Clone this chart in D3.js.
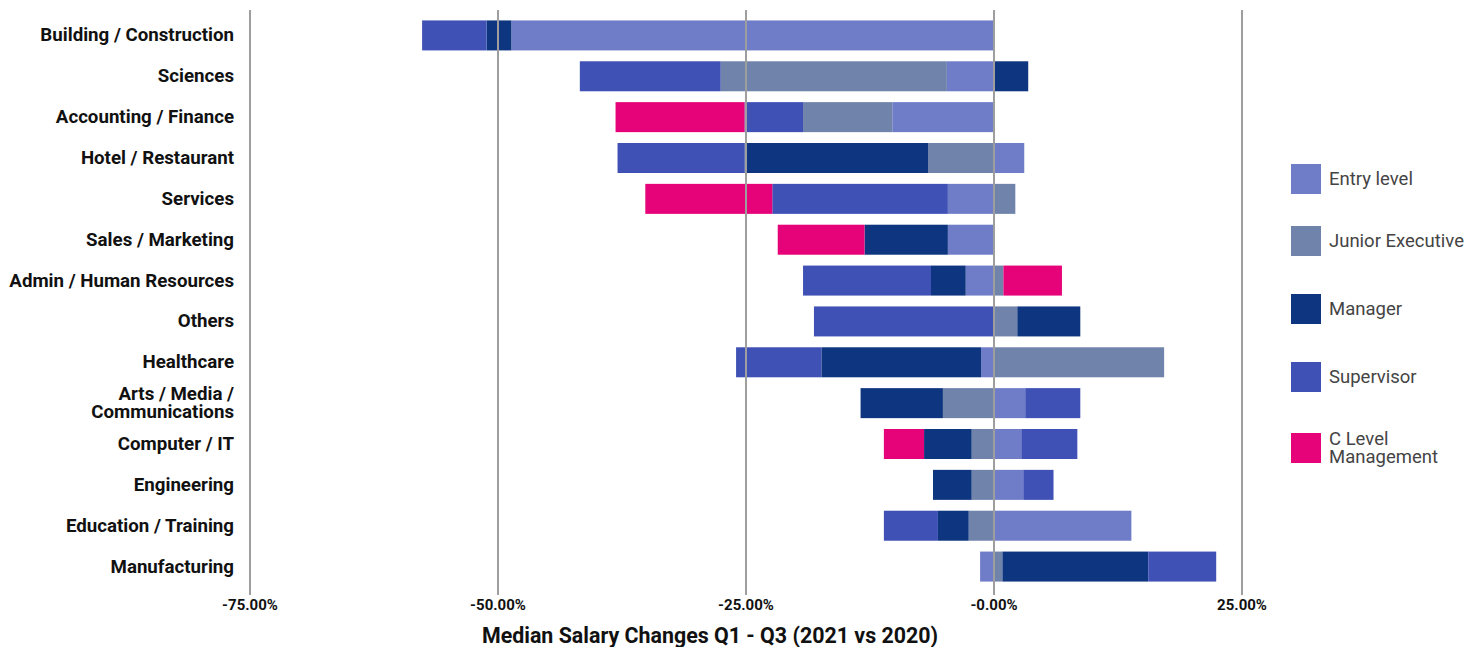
<!DOCTYPE html>
<html>
<head>
<meta charset="utf-8">
<script src="https://cdn.jsdelivr.net/npm/d3@7"></script>
<style>
body { margin: 0; background: #fff; }
text { font-family: Roboto, sans-serif; }
</style>
</head>
<body>
<div id="salary_chart"></div>
<script>
//categories, top to bottom
var categories = ["Building / Construction", "Sciences", "Accounting / Finance", "Hotel / Restaurant",
  "Services", "Sales / Marketing", "Admin / Human Resources", "Others", "Healthcare",
  "Arts / Media / Communications", "Computer / IT", "Engineering", "Education / Training", "Manufacturing"];

//median salary change (%) per category, one array per level
var entryLevel      = [-48.6, -4.7, -10.2,   3.1,  -4.6, -4.6, -2.8,   0,    -1.25,  3.2,  2.8,  3.0, 13.9, -1.35];
var juniorExecutive = [  0,  -22.8,  -9.0,  -6.6,   2.2,  0,    1.0,   2.4,  17.2,  -5.1, -2.2, -2.2, -2.5,  0.9];
var manager         = [ -2.5,  3.5,   0,   -18.5,   0,   -8.4, -3.5,   6.35, -16.1, -8.3, -4.8, -3.9, -3.1, 14.7];
var supervisor      = [ -6.5, -14.2, -5.9, -12.8, -17.7,  0,  -12.9, -18.1,  -8.6,  5.55, 5.65, 3.05, -5.45, 6.85];
var cLevel          = [  0,    0,   -13.0,   0,   -12.8, -8.75, 5.9,   0,     0,    0,   -4.05, 0,    0,    0];

//series names and colours
var seriesNames = ["Entry level", "Junior Executive", "Manager", "Supervisor", "C Level Management"];
var seriesColors = ["#6f7dc8", "#6f83ab", "#0e3680", "#3f51b5", "#e6037a"];

//x axis ticks
var tickValues = [-75, -50, -25, 0, 25];
var tickLabels = ["-75.00%", "-50.00%", "-25.00%", "-0.00%", "25.00%"];

var width = 1468, height = 647;

//appending svg object to body
var svg = d3.select("#salary_chart")
  .append("svg")
  .attr("width", width)
  .attr("height", height);

//building rows for the stack layout
var seriesKeys = ["entry", "junior", "manager", "supervisor", "clevel"];
var seriesValues = [entryLevel, juniorExecutive, manager, supervisor, cLevel];
var rows = categories.map(function(c, i) {
  var row = {category: c};
  seriesKeys.forEach(function(k, j) { row[k] = seriesValues[j][i]; });
  return row;
});

//negatives stack to the left of zero, positives to the right
var stacked = d3.stack()
  .keys(seriesKeys)
  .offset(d3.stackOffsetDiverging)(rows);

//scales
var xScale = d3.scaleLinear().domain([-75, 25]).range([249.5, 1241.5]);
var yScale = d3.scaleBand().domain(categories).range([15, 587])
  .paddingInner(0.2656).paddingOuter(0.1328);

//adding bars
svg.selectAll(".series")
  .data(stacked)
  .enter().append("g")
  .attr("class", "series")
  .style("fill", function(d, i) { return seriesColors[i]; })
  .selectAll("rect")
  .data(function(d) { return d; })
  .enter().append("rect")
  .attr("x", function(d) { return xScale(Math.min(d[0], d[1])); })
  .attr("width", function(d) { return Math.abs(xScale(d[1]) - xScale(d[0])); })
  .attr("y", function(d) { return yScale(d.data.category); })
  .attr("height", yScale.bandwidth());

//x axis with grid lines drawn over the bars
var xAxis = svg.append("g")
  .attr("transform", "translate(0,595)")
  .call(d3.axisBottom(xScale)
    .tickValues(tickValues)
    .tickSize(-585)
    .tickPadding(4)
    .tickFormat(function(d, i) { return tickLabels[i]; }));
xAxis.select(".domain").remove();
xAxis.selectAll(".tick line").attr("stroke", "#9e9e9e").attr("stroke-width", 2);
xAxis.selectAll(".tick text")
  .attr("fill", "#111")
  .style("font-size", "15px")
  .style("font-weight", "bold");

//y axis (category labels only)
var yAxis = svg.append("g")
  .attr("transform", "translate(234,0)")
  .call(d3.axisLeft(yScale).tickSize(0).tickPadding(0));
yAxis.select(".domain").remove();
yAxis.selectAll(".tick text")
  .attr("fill", "#111")
  .style("font-size", "18.7px")
  .style("font-weight", "bold")
  .each(function(d) {
    //long labels wrap onto two lines
    if (d.length > 25) {
      var t = d3.select(this);
      var cut = d.lastIndexOf(" ");
      t.text(null);
      t.append("tspan").attr("x", 0).attr("dy", "-0.18em").text(d.slice(0, cut));
      t.append("tspan").attr("x", 0).attr("dy", "0.97em").text(d.slice(cut + 1));
    }
  });

//title
svg.append("text")
  .attr("x", 710)
  .attr("y", 643)
  .attr("text-anchor", "middle")
  .attr("fill", "#111")
  .style("font-size", "21.4px")
  .style("font-weight", "bold")
  .text("Median Salary Changes Q1 - Q3 (2021 vs 2020)");

//legend
var legendTops = [164, 226, 294, 362, 433];
var legend = svg.selectAll(".legend")
  .data(seriesNames)
  .enter().append("g")
  .attr("class", "legend")
  .attr("transform", function(d, i) { return "translate(1291," + legendTops[i] + ")"; });

legend.append("rect")
  .attr("width", 30)
  .attr("height", 30)
  .style("fill", function(d, i) { return seriesColors[i]; });

legend.append("text")
  .attr("x", 38)
  .attr("y", 15)
  .attr("fill", "#444")
  .style("font-size", "18.5px")
  .each(function(d) {
    var t = d3.select(this);
    if (d === "C Level Management") {
      t.append("tspan").attr("x", 38).attr("dy", "-0.15em").text("C Level");
      t.append("tspan").attr("x", 38).attr("dy", "0.97em").text("Management");
    } else {
      t.attr("dy", "0.35em").text(d);
    }
  });
</script>
</body>
</html>
